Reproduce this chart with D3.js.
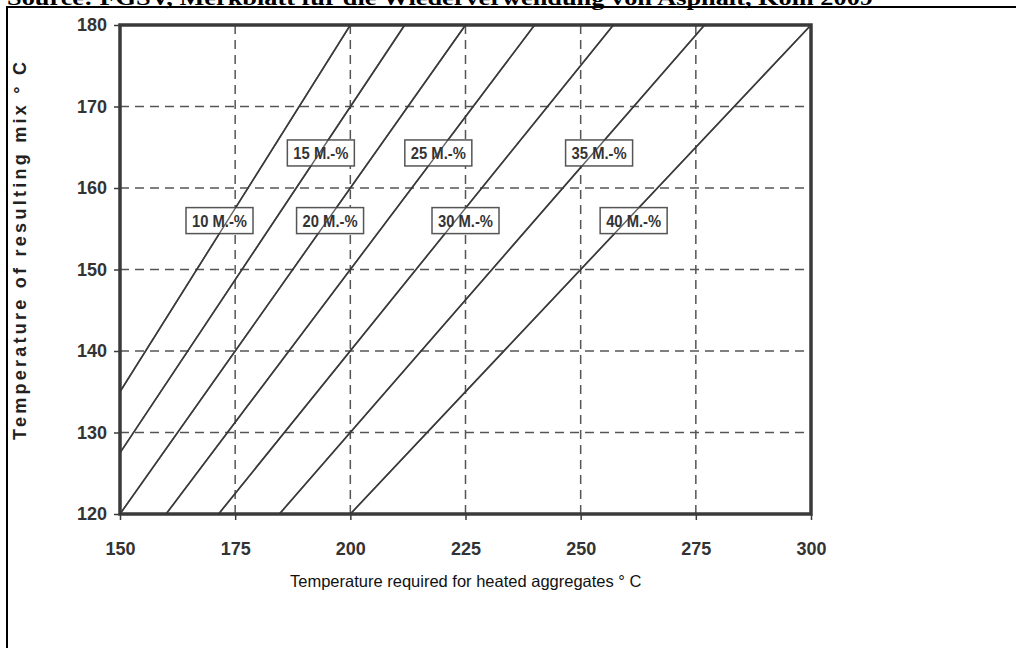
<!DOCTYPE html>
<html>
<head>
<meta charset="utf-8">
<script src="https://cdn.jsdelivr.net/npm/d3@7"></script>
<style>
  body { margin: 0; background: #fff; }
  svg { display: block; }
</style>
</head>
<body>
<div id="chart"></div>
<script>
// Values
var sourceNote = "Source: FGSV, Merkblatt für die Wiederverwendung von Asphalt, Köln 2009";
var xTicks = [150, 175, 200, 225, 250, 275, 300];
var yTicks = [120, 130, 140, 150, 160, 170, 180];
var shares = ["10 M.-%", "15 M.-%", "20 M.-%", "25 M.-%", "30 M.-%", "35 M.-%", "40 M.-%"];
// each line runs from (startAgg, startMix) to (endAgg, endMix)
var startAgg = [150, 150, 150, 160, 171.4, 184.6, 200];
var startMix = [135, 127.5, 120, 120, 120, 120, 120];
var endAgg = [200, 211.8, 225, 240, 257.1, 276.9, 300];
var endMix = [180, 180, 180, 180, 180, 180, 180];
// label box centres
var labelAgg = [171.6, 193.6, 195.6, 219.1, 225, 254, 261.5];
var labelMix = [156, 164.3, 156, 164.3, 156, 164.3, 156];

var width = 1016, height = 648;

var svg = d3.select("#chart")
    .append("svg")
    .attr("width", width)
    .attr("height", height);

// source line, cut off at the top edge like the scan
svg.append("text")
    .attr("x", 7)
    .attr("y", 5)
    .attr("textLength", 866)
    .attr("lengthAdjust", "spacingAndGlyphs")
    .style("font-family", "'Liberation Serif', 'Times New Roman', serif")
    .style("font-weight", "bold")
    .style("font-size", "21px")
    .text(sourceNote);

// outer frame
svg.append("rect")
    .attr("x", 7)
    .attr("y", 7)
    .attr("width", width + 20)
    .attr("height", height + 20)
    .style("fill", "none")
    .style("stroke", "#000")
    .style("stroke-width", 2);

var x = d3.scaleLinear().domain([150, 300]).range([120, 811]);
var y = d3.scaleLinear().domain([120, 180]).range([514, 25]);

var ink = "#3a3a3a";

// dashed grid
svg.append("g")
    .selectAll("line")
    .data(xTicks.slice(1, -1))
    .enter()
    .append("line")
    .attr("x1", d => x(d)).attr("x2", d => x(d))
    .attr("y1", y(120)).attr("y2", y(180))
    .style("stroke", "#555")
    .style("stroke-width", 1.5)
    .style("stroke-dasharray", "9,6");

svg.append("g")
    .selectAll("line")
    .data(yTicks.slice(1, -1))
    .enter()
    .append("line")
    .attr("x1", x(150)).attr("x2", x(300))
    .attr("y1", d => y(d)).attr("y2", d => y(d))
    .style("stroke", "#555")
    .style("stroke-width", 1.5)
    .style("stroke-dasharray", "9,6");

// axes
var xAxis = svg.append("g")
    .attr("transform", "translate(0," + y(120) + ")")
    .call(d3.axisBottom(x).tickValues(xTicks).tickSize(6).tickPadding(22).tickSizeOuter(0));

var yAxis = svg.append("g")
    .attr("transform", "translate(" + x(150) + ",0)")
    .call(d3.axisLeft(y).tickValues(yTicks).tickSize(6).tickPadding(7).tickSizeOuter(0));

[xAxis, yAxis].forEach(function(a) {
    a.select(".domain").remove();
    a.selectAll("line").style("stroke", ink).style("stroke-width", 1.5);
    a.selectAll("text")
        .style("font-family", "'Liberation Sans', Arial, sans-serif")
        .style("font-weight", "bold")
        .style("font-size", "18px")
        .style("fill", "#333");
});

// plot frame
svg.append("rect")
    .attr("x", x(150))
    .attr("y", y(180))
    .attr("width", x(300) - x(150))
    .attr("height", y(120) - y(180))
    .style("fill", "none")
    .style("stroke", ink)
    .style("stroke-width", 3.5);

// mixing lines
svg.append("g")
    .selectAll("line")
    .data(shares)
    .enter()
    .append("line")
    .attr("x1", (d, i) => x(startAgg[i]))
    .attr("y1", (d, i) => y(startMix[i]))
    .attr("x2", (d, i) => x(endAgg[i]))
    .attr("y2", (d, i) => y(endMix[i]))
    .style("stroke", ink)
    .style("stroke-width", 1.6);

// label boxes
var boxW = 67, boxH = 26;
var labels = svg.append("g")
    .selectAll("g")
    .data(shares)
    .enter()
    .append("g")
    .attr("transform", (d, i) => "translate(" + x(labelAgg[i]) + "," + y(labelMix[i]) + ")");

labels.append("rect")
    .attr("x", -boxW / 2)
    .attr("y", -boxH / 2)
    .attr("width", boxW)
    .attr("height", boxH)
    .style("fill", "#fff")
    .style("stroke", "#555")
    .style("stroke-width", 1.5);

labels.append("text")
    .attr("text-anchor", "middle")
    .attr("dy", "0.36em")
    .attr("textLength", 55)
    .attr("lengthAdjust", "spacingAndGlyphs")
    .style("font-family", "'Liberation Sans Narrow', 'Arial Narrow', 'Liberation Sans', sans-serif")
    .style("font-weight", "bold")
    .style("font-size", "17px")
    .style("fill", "#333")
    .text(d => d);

// lines run through the boxes in the scan
svg.append("g")
    .selectAll("line")
    .data(shares)
    .enter()
    .append("line")
    .attr("x1", (d, i) => x(startAgg[i]))
    .attr("y1", (d, i) => y(startMix[i]))
    .attr("x2", (d, i) => x(endAgg[i]))
    .attr("y2", (d, i) => y(endMix[i]))
    .style("stroke", ink)
    .style("stroke-width", 1.4)
    .style("opacity", 0.8);

// axis titles
svg.append("text")
    .attr("x", 290)
    .attr("y", 587)
    .style("font-family", "'Liberation Sans', Arial, sans-serif")
    .style("font-size", "16.5px")
    .style("fill", "#111")
    .text("Temperature required for heated aggregates ° C");

svg.append("text")
    .attr("transform", "translate(26,440) rotate(-90)")
    .attr("textLength", 378)
    .attr("lengthAdjust", "spacing")
    .style("font-family", "'Liberation Sans', Arial, sans-serif")
    .style("font-weight", "bold")
    .style("font-size", "18px")
    .style("fill", "#222")
    .text("Temperature of resulting mix ° C");
</script>
</body>
</html>
